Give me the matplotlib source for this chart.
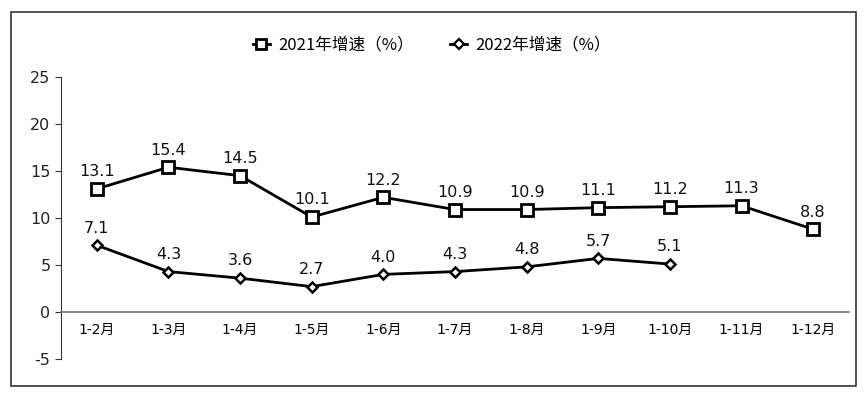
import matplotlib.pyplot as plt
from matplotlib.lines import Line2D
from matplotlib.patches import Rectangle

plt.rcParams['font.family'] = ['DejaVu Sans', 'Noto Sans CJK SC']
plt.rcParams['axes.unicode_minus'] = False

months = ["1-2月", "1-3月", "1-4月", "1-5月", "1-6月", "1-7月",
          "1-8月", "1-9月", "1-10月", "1-11月", "1-12月"]
growth_2021 = [13.1, 15.4, 14.5, 10.1, 12.2, 10.9, 10.9, 11.1, 11.2, 11.3, 8.8]
growth_2022 = [7.1, 4.3, 3.6, 2.7, 4.0, 4.3, 4.8, 5.7, 5.1]
series_names = ["2021年增速（%）", "2022年增速（%）"]


def main():
    fig = plt.figure(figsize=(8.64, 3.93), dpi=100)
    ax = fig.add_axes([61 / 864, 1 - 359 / 393, 788 / 864, 282 / 393])

    # outer frame around the whole chart
    fig.patches.append(Rectangle((11 / 864, 7 / 393), 845 / 864, 374 / 393,
                                 transform=fig.transFigure, fill=False,
                                 edgecolor="#333333", linewidth=1.2))

    x1 = range(len(growth_2021))
    x2 = range(len(growth_2022))
    ax.plot(x1, growth_2021, color="black", linewidth=2, marker="s",
            markersize=8, markerfacecolor="white", markeredgewidth=2)
    ax.plot(x2, growth_2022, color="black", linewidth=2, marker="D",
            markersize=5.5, markerfacecolor="white", markeredgewidth=1.8)

    for xs, ys in ((x1, growth_2021), (x2, growth_2022)):
        for x, y in zip(xs, ys):
            ax.annotate(f"{y:.1f}", (x, y), xytext=(0, 7),
                        textcoords="offset points", ha="center",
                        va="bottom", fontsize=11.5, color="#111111")

    ax.set_xlim(-0.5, len(months) - 0.5)
    ax.set_ylim(-5, 25)
    ax.set_yticks(range(-5, 26, 5))
    ax.set_xticks(list(x1))
    ax.set_xticklabels(months, fontfamily=["Noto Sans CJK SC"],
                       fontsize=10.5, color="#333333")

    for side in ("top", "right"):
        ax.spines[side].set_visible(False)
    ax.spines["bottom"].set_position(("data", 0))
    ax.spines["bottom"].set_color("#777777")
    ax.spines["bottom"].set_linewidth(1.2)
    ax.spines["left"].set_color("#333333")
    ax.tick_params(axis="x", length=0, pad=8)
    ax.tick_params(axis="y", length=4, labelsize=11.5, labelcolor="#222222",
                   color="#333333")

    # legend keys: short stub with the marker
    handles = [
        Line2D([], [], color="black", linewidth=2,
               marker="s", markersize=7, markerfacecolor="white",
               markeredgewidth=2),
        Line2D([], [], color="black", linewidth=2,
               marker="D", markersize=5, markerfacecolor="white",
               markeredgewidth=1.6),
    ]
    fig.legend(handles, series_names, loc="center",
               bbox_to_anchor=(0.5, 1 - 45 / 393), ncol=2, frameon=False,
               handlelength=1.0, handletextpad=0.5, columnspacing=2.2,
               prop={"family": ["Noto Sans CJK SC"], "size": 12})

    fig.savefig("out.png", dpi=100)


if __name__ == "__main__":
    main()
